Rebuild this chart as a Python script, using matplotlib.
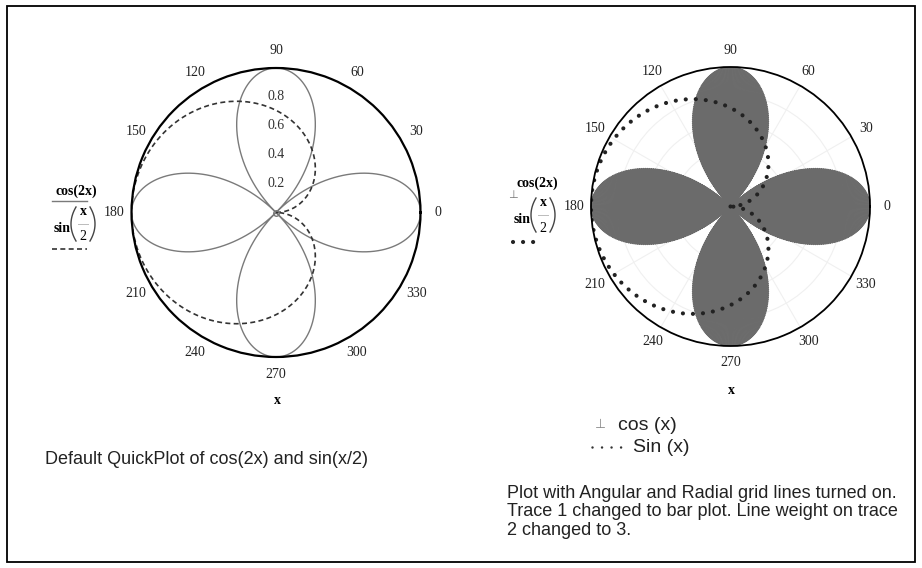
import numpy as np
import matplotlib
matplotlib.use('Agg')
import matplotlib.pyplot as plt
from matplotlib.lines import Line2D
from matplotlib.patches import Rectangle

W, H = 922, 568

# traces of the QuickPlot (x in radians, one full turn)
x = np.linspace(0, 2 * np.pi, 721)
trace1 = np.cos(2 * x)      # cos(2x)
trace2 = np.sin(x / 2)      # sin(x/2)

angle_ticks = [0, 30, 60, 90, 120, 150, 180, 210, 240, 270, 300, 330]
angle_labels = [str(a) for a in angle_ticks]
radial_ticks = [0.2, 0.4, 0.6, 0.8]
radial_labels = ['0.2', '0.4', '0.6', '0.8']

caption_left = 'Default QuickPlot of cos(2x) and sin(x/2)'
caption_right = ['Plot with Angular and Radial grid lines turned on.',
                 'Trace 1 changed to bar plot. Line weight on trace',
                 '2 changed to 3.']
note_lines = ['cos (x)', 'Sin (x)']

SERIF = 'Liberation Serif'
SANS = 'Liberation Sans'


def fx(px):
    return px / W


def fy(py):
    return 1 - py / H


def polar_axes(fig, cx, cy, r):
    return fig.add_axes([fx(cx - r), fy(cy + r), 2 * r / W, 2 * r / H],
                        projection='polar')


def angle_text(ax):
    for a, lab in zip(angle_ticks, angle_labels):
        ax.text(np.deg2rad(a), 1.12, lab, ha='center', va='center',
                fontsize=10, family=SERIF, color='#222')


def paren(fig, xe, cy, side):
    # tall bracket drawn as a curve; xe = outermost pixel column
    t = np.linspace(-1, 1, 25)
    px = xe + side * 5 * t ** 2
    py = cy + 17 * t
    fig.add_artist(Line2D(fx(px), fy(py), color='#444444', lw=1.0))


def sin_half(fig, x0, y0):
    # Mathcad style  sin( x / 2 )
    fig.text(fx(x0), fy(y0), 'sin', ha='left', va='center', fontsize=10,
             family=SERIF, weight='bold')
    paren(fig, x0 + 17, y0 - 5, 1)
    fig.text(fx(x0 + 29), fy(y0 - 17), 'x', ha='center', va='center',
             fontsize=10, family=SERIF, weight='bold')
    fig.add_artist(Line2D([fx(x0 + 24), fx(x0 + 34)], [fy(y0 - 5), fy(y0 - 5)],
                          color='#bbbbbb', lw=0.7))
    fig.text(fx(x0 + 29), fy(y0 + 8), '2', ha='center', va='center',
             fontsize=10, family=SERIF)
    paren(fig, x0 + 41, y0 - 5, -1)


fig = plt.figure(figsize=(W / 100, H / 100), dpi=100)

# ---- left : default quickplot
ax1 = polar_axes(fig, 276, 212.5, 144.5)
ax1.plot(x, np.abs(trace1), color='#7a7a7a', lw=1.0)
ax1.plot(x, trace2, color='#333333', lw=1.2, linestyle=(0, (3, 2)))
ax1.plot(0, 0, 'o', mfc='none', mec='#777777', ms=4, mew=1)
ax1.set_ylim(0, 1)
ax1.set_xticks([])
ax1.set_yticks([])
ax1.grid(False)
ax1.spines['polar'].set_linewidth(1.6)
ax1.spines['polar'].set_color('black')
angle_text(ax1)
for r, lab in zip(radial_ticks, radial_labels):
    ax1.text(np.pi / 2, r, lab, ha='center', va='center', fontsize=10,
             family=SERIF, color='#333')

# ---- right : bar plot + heavy dotted line, grids on
ax2 = polar_axes(fig, 730.5, 206.5, 139.5)
ax2.set_axisbelow(True)
ax2.bar(x, np.abs(trace1), width=2 * np.pi / 720, bottom=0,
        color='#6b6b6b', edgecolor='#6b6b6b', linewidth=0.6)
ax2.plot(x, trace2, color='#222222', lw=3.0, linestyle=(0, (0.01, 2.4)),
         dash_capstyle='round')
ax2.set_ylim(0, 1)
ax2.set_xticks(np.deg2rad(angle_ticks))
ax2.set_xticklabels([])
ax2.set_yticks(radial_ticks)
ax2.set_yticklabels([])
ax2.grid(True, color='#f0f0f0', lw=0.8)
ax2.spines['polar'].set_linewidth(1.3)
ax2.spines['polar'].set_color('black')
angle_text(ax2)

# axis names
fig.text(fx(277), fy(401), 'x', ha='center', va='center', fontsize=10,
         family=SERIF, weight='bold')
fig.text(fx(731), fy(391), 'x', ha='center', va='center', fontsize=10,
         family=SERIF, weight='bold')

# ---- legends beside the plots
fig.text(fx(76), fy(191), 'cos(2x)', ha='center', va='center', fontsize=10,
         family=SERIF, weight='bold')
fig.add_artist(Line2D([fx(52), fx(87)], [fy(201), fy(201)], color='#7a7a7a',
                      lw=1.0))
sin_half(fig, 54, 229)
fig.add_artist(Line2D([fx(52), fx(87)], [fy(249), fy(249)], color='#333333',
                      lw=1.2, linestyle=(0, (3, 2))))

fig.text(fx(516), fy(183), 'cos(2x)', ha='left', va='center', fontsize=10,
         family=SERIF, weight='bold')
fig.text(fx(513), fy(195), '\u22a5', ha='center', va='center', fontsize=8,
         color='#777777', family='DejaVu Sans')
sin_half(fig, 514, 220)
fig.add_artist(Line2D([fx(513), fx(543)], [fy(242), fy(242)], color='#222222',
                      lw=3.0, linestyle=(0, (0.01, 2.4)),
                      dash_capstyle='round'))

# ---- notes and captions
fig.text(fx(600), fy(425), '\u22a5', ha='center', va='center', fontsize=9,
         color='#888888', family='DejaVu Sans')
fig.text(fx(618), fy(425), note_lines[0], ha='left', va='center',
         fontsize=14, family=SANS, color='#222')
fig.add_artist(Line2D([fx(592), fx(623)], [fy(447), fy(447)], color='#333333',
                      lw=1.8, linestyle=(0, (0.01, 3.8)),
                      dash_capstyle='round'))
fig.text(fx(633), fy(447), note_lines[1], ha='left', va='center',
         fontsize=14, family=SANS, color='#222')

fig.text(fx(45), fy(460), caption_left, ha='left', va='center', fontsize=13,
         family=SANS, color='#222')
fig.text(fx(507), fy(512), '\n'.join(caption_right), ha='left',
         va='center', fontsize=13, family=SANS, color='#222',
         linespacing=1.15)

# frame round the whole sheet
fig.add_artist(Rectangle((fx(7), fy(562)), 908 / W, 556 / H,
                         transform=fig.transFigure, fill=False,
                         edgecolor='black', lw=1.3))

fig.savefig('out.png', dpi=100)
